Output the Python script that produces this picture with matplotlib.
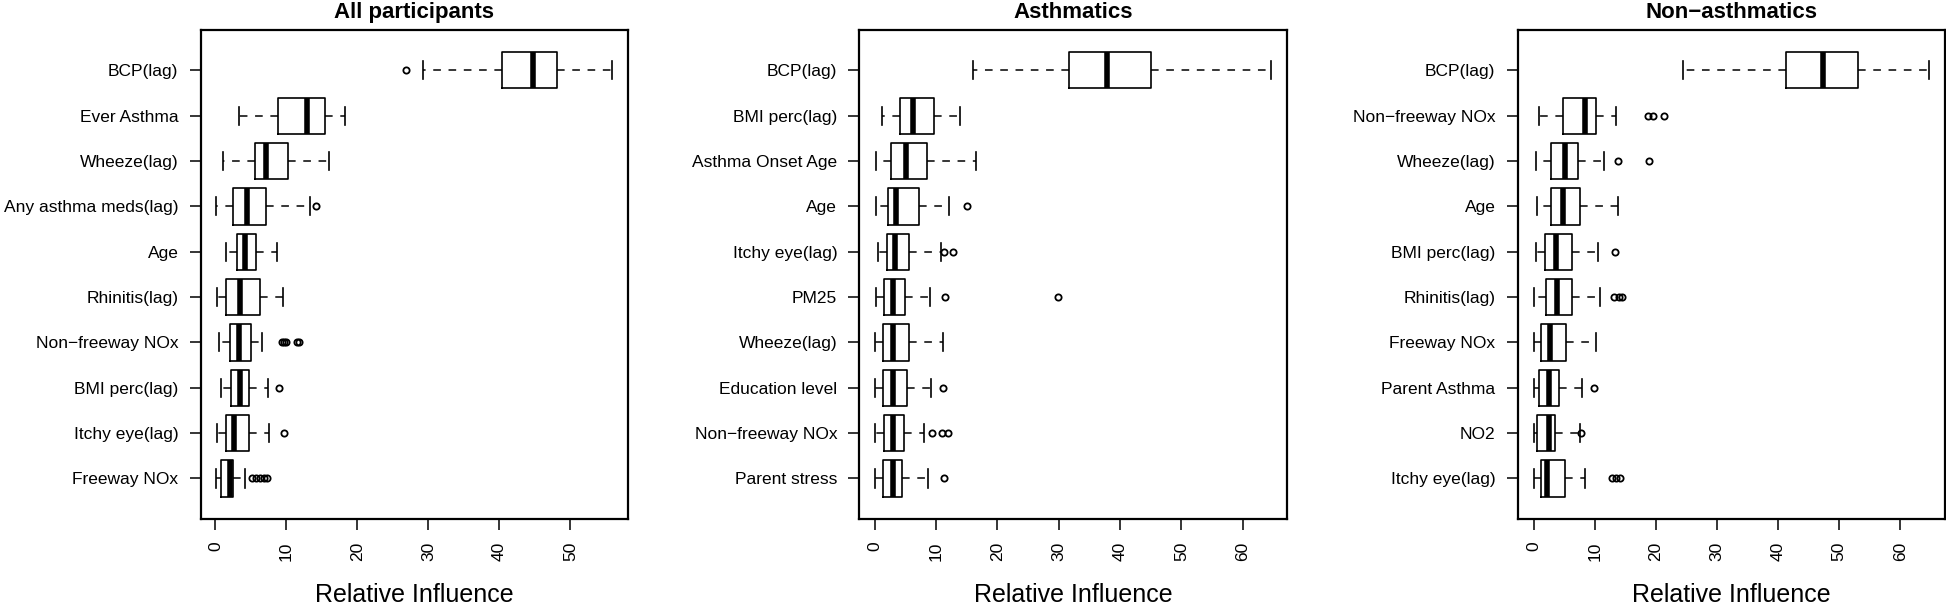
import matplotlib
matplotlib.use("Agg")
import matplotlib.pyplot as plt
import numpy as np

plt.rcParams["font.family"] = ["Liberation Sans", "DejaVu Sans"]

# Panel titles
titles = ["All participants", "Asthmatics", "Non\u2212asthmatics"]

# --- All participants ---
all_labels = ["BCP(lag)", "Ever Asthma", "Wheeze(lag)", "Any asthma meds(lag)", "Age",
              "Rhinitis(lag)", "Non\u2212freeway NOx", "BMI perc(lag)", "Itchy eye(lag)", "Freeway NOx"]
all_whislo = [29.2, 3.3, 1.1, 0.14, 1.55, 0.28, 0.47, 0.8, 0.28, 0.14]
all_q1 = [40.4, 8.8, 5.5, 2.4, 3.0, 1.55, 2.1, 2.25, 1.45, 0.75]
all_med = [44.7, 12.9, 7.1, 4.5, 4.2, 3.5, 3.3, 3.5, 2.6, 2.1]
all_q3 = [48.1, 15.4, 10.2, 7.05, 5.7, 6.25, 5.0, 4.75, 4.7, 2.5]
all_whishi = [55.9, 18.3, 16.0, 13.3, 8.6, 9.45, 6.6, 7.4, 7.6, 4.1]
all_fliers = [[26.9], [], [], [14.2], [], [], [9.4, 9.7, 10.0, 11.5, 11.8],
              [9.0], [9.7], [5.2, 5.7, 6.3, 6.8, 7.2]]

# --- Asthmatics ---
ast_labels = ["BCP(lag)", "BMI perc(lag)", "Asthma Onset Age", "Age", "Itchy eye(lag)",
              "PM25", "Wheeze(lag)", "Education level", "Non\u2212freeway NOx", "Parent stress"]
ast_whislo = [16.1, 1.2, 0.27, 0.27, 0.54, 0.16, 0.1, 0.1, 0.1, 0.1]
ast_q1 = [31.6, 4.2, 2.7, 2.2, 1.96, 1.5, 1.4, 1.4, 1.5, 1.3]
ast_med = [37.85, 6.3, 5.07, 3.5, 3.3, 3.05, 3.05, 3.05, 2.95, 3.05]
ast_q3 = [45.1, 9.65, 8.5, 7.25, 5.6, 4.95, 5.67, 5.35, 4.8, 4.5]
ast_whishi = [64.6, 13.85, 16.5, 12.1, 10.8, 9.1, 11.1, 9.27, 8.1, 8.65]
ast_fliers = [[], [], [], [15.05], [11.3, 12.8], [11.55, 29.95], [], [11.1],
              [9.4, 11.0, 12.0], [11.35]]

# --- Non-asthmatics ---
non_labels = ["BCP(lag)", "Non\u2212freeway NOx", "Wheeze(lag)", "Age", "BMI perc(lag)",
              "Rhinitis(lag)", "Freeway NOx", "Parent Asthma", "NO2", "Itchy eye(lag)"]
non_whislo = [24.45, 0.92, 0.38, 0.54, 0.38, 0.0, 0.16, 0.05, 0.05, 0.05]
non_q1 = [41.3, 4.8, 2.83, 2.78, 1.9, 1.96, 1.15, 0.92, 0.54, 1.15]
non_med = [47.3, 8.35, 5.07, 4.75, 3.7, 3.8, 2.7, 2.56, 2.56, 2.13]
non_q3 = [53.0, 10.3, 7.3, 7.6, 6.3, 6.27, 5.3, 4.1, 3.54, 5.07]
non_whishi = [64.75, 13.5, 11.5, 13.8, 10.5, 10.8, 10.25, 8.0, 7.58, 8.5]
non_fliers = [[], [18.7, 19.5, 21.4], [13.75, 18.9], [], [13.25], [13.2, 13.9, 14.5],
              [], [9.9], [7.8], [12.9, 13.5, 14.1]]

x_ticks = [np.arange(0, 51, 10), np.arange(0, 61, 10), np.arange(0, 61, 10)]

panels = [
    (all_labels, all_whislo, all_q1, all_med, all_q3, all_whishi, all_fliers),
    (ast_labels, ast_whislo, ast_q1, ast_med, ast_q3, ast_whishi, ast_fliers),
    (non_labels, non_whislo, non_q1, non_med, non_q3, non_whishi, non_fliers),
]

fig = plt.figure(figsize=(19.46, 6.06), dpi=100)
lefts = [0.1031, 0.4416, 0.7799]
width, bottom, height = 0.2197, 0.1431, 0.8082

for i, (labels, wlo, q1, med, q3, whi, fl) in enumerate(panels):
    ax = fig.add_axes([lefts[i], bottom, width, height])
    n = len(labels)
    stats = []
    for j in range(n):
        stats.append(dict(med=med[j], q1=q1[j], q3=q3[j], whislo=wlo[j],
                          whishi=whi[j], fliers=fl[j], label=labels[j]))
    pos = np.arange(n, 0, -1)
    ax.bxp(stats, positions=pos, widths=0.8, capwidths=0.4,
           orientation="horizontal", showfliers=True,
           boxprops=dict(color="black", linewidth=1.2),
           whiskerprops=dict(color="black", linewidth=1.1, linestyle=(0, (5, 5))),
           capprops=dict(color="black", linewidth=1.2),
           medianprops=dict(color="black", linewidth=4.0, solid_capstyle="butt"),
           flierprops=dict(marker="o", markersize=4.5, markerfacecolor="none",
                           markeredgecolor="black", markeredgewidth=1.3))

    # R-style axis extension: 4% of the data range
    all_fl = [v for f in fl for v in f]
    lo = min(wlo + all_fl)
    hi = max(whi + all_fl)
    ext = 0.04 * (hi - lo)
    ax.set_xlim(lo - ext, hi + ext)
    ax.set_ylim(0.1, n + 0.9)

    ax.set_yticks(pos)
    ax.set_yticklabels(labels)
    ax.set_xticks(x_ticks[i])
    ax.set_xticklabels([str(t) for t in x_ticks[i]], rotation=90)
    ax.tick_params(axis="both", length=8, width=1.1, labelsize=12.5, pad=8)
    for sp in ax.spines.values():
        sp.set_linewidth(1.6)
    ax.set_title(titles[i], fontsize=16, fontweight="bold", pad=8.5)
    ax.set_xlabel("Relative Influence", fontsize=18, labelpad=16)

fig.savefig("out.png", dpi=100)
